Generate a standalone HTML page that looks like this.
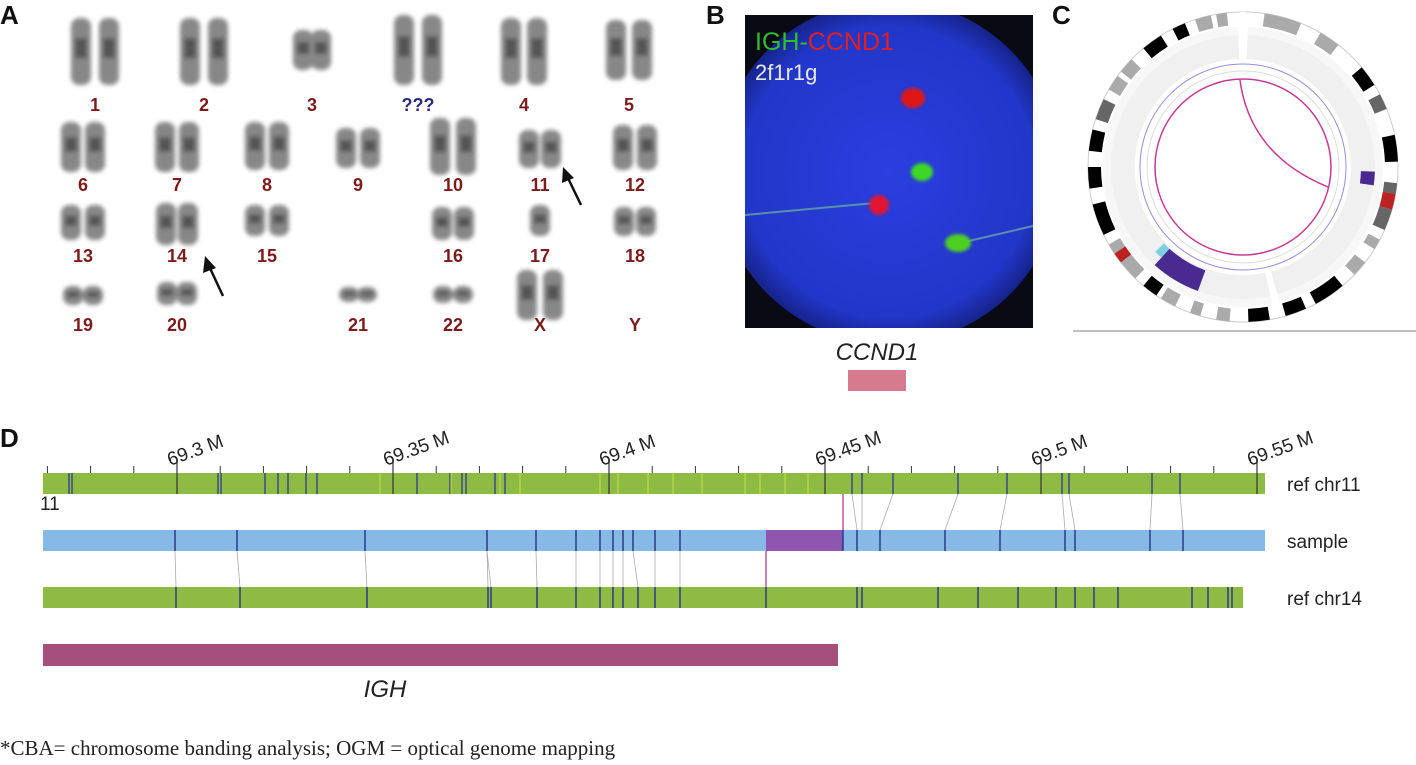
<!DOCTYPE html>
<html><head><meta charset="utf-8"><style>
html,body{margin:0;padding:0;background:#fff;width:1416px;height:765px;overflow:hidden}
svg{display:block}
.lbl{font-family:"Liberation Sans",Arial,sans-serif;font-weight:bold;font-size:18px;fill:#7b1c1c;text-anchor:middle}
.pl{font-family:"Liberation Sans",Arial,sans-serif;font-weight:bold;font-size:26px;fill:#111}
.tk{font-family:"Liberation Sans",Arial,sans-serif;font-size:19px;fill:#222}
</style></head><body>
<svg id="s" width="1416" height="765" viewBox="0 0 1416 765" xmlns="http://www.w3.org/2000/svg">
<defs>
<filter id="bl" x="-50%" y="-50%" width="200%" height="200%"><feGaussianBlur stdDeviation="2.2"/></filter>
<filter id="bl2" x="-50%" y="-50%" width="200%" height="200%"><feGaussianBlur stdDeviation="1.5"/></filter>
<radialGradient id="nuc" cx="50%" cy="50%" r="50%"><stop offset="0" stop-color="#2a3fe0"/><stop offset="0.85" stop-color="#2236c8"/><stop offset="1" stop-color="#16238a"/></radialGradient>
<clipPath id="bc"><rect x="745" y="15" width="288" height="313"/></clipPath>
</defs>
<text class="pl" x="0" y="24">A</text>
<text class="pl" x="706" y="24">B</text>
<text class="pl" x="1052" y="24">C</text>
<text class="pl" x="0" y="447">D</text>
<g id="chroms" filter="url(#bl)" opacity="0.8"></g>
<g>
<text class="lbl" x="95" y="111">1</text><text class="lbl" x="204" y="111">2</text><text class="lbl" x="312" y="111">3</text>
<text class="lbl" x="418" y="111" style="fill:#2a2a7a">???</text><text class="lbl" x="524" y="111">4</text><text class="lbl" x="629" y="111">5</text>
<text class="lbl" x="83" y="191">6</text><text class="lbl" x="177" y="191">7</text><text class="lbl" x="267" y="191">8</text><text class="lbl" x="358" y="191">9</text>
<text class="lbl" x="453" y="191">10</text><text class="lbl" x="540" y="191">11</text><text class="lbl" x="635" y="191">12</text>
<text class="lbl" x="83" y="262">13</text><text class="lbl" x="177" y="262">14</text><text class="lbl" x="267" y="262">15</text>
<text class="lbl" x="453" y="262">16</text><text class="lbl" x="540" y="262">17</text><text class="lbl" x="635" y="262">18</text>
<text class="lbl" x="83" y="331">19</text><text class="lbl" x="177" y="331">20</text><text class="lbl" x="358" y="331">21</text>
<text class="lbl" x="453" y="331">22</text><text class="lbl" x="540" y="331">X</text><text class="lbl" x="635" y="331">Y</text>
</g>
<g stroke="#111" stroke-width="2.5" fill="#111">
<line x1="581" y1="205" x2="567" y2="176"/><polygon points="563,167 574,178 562,183" stroke="none"/>
<line x1="223" y1="296" x2="209" y2="266"/><polygon points="205,256 216,268 203,273" stroke="none"/>
</g>
<!-- B -->
<rect x="745" y="15" width="288" height="313" fill="#0a0a14"/>
<g clip-path="url(#bc)">
<circle cx="889" cy="172" r="172" fill="url(#nuc)"/>
<line x1="745" y1="215" x2="875" y2="203" stroke="#5a8fb0" stroke-width="2"/>
<line x1="960" y1="243" x2="1033" y2="226" stroke="#5a8fb0" stroke-width="2"/>
<g filter="url(#bl2)">
<ellipse cx="913" cy="98" rx="12" ry="10" fill="#e01818"/>
<ellipse cx="922" cy="172" rx="11" ry="9" fill="#3cd828"/>
<ellipse cx="879" cy="205" rx="10" ry="10" fill="#e01830"/>
<ellipse cx="958" cy="243" rx="13" ry="9" fill="#4ed020"/>
</g>
</g>
<text x="755" y="50" font-family="Liberation Sans,Arial,sans-serif" font-size="25"><tspan fill="#2ec02e">IGH-</tspan><tspan fill="#e02020">CCND1</tspan></text>
<text x="755" y="80" font-family="Liberation Sans,Arial,sans-serif" font-size="22" fill="#e8e8e8">2f1r1g</text>
<text x="877" y="360" font-family="Liberation Sans,Arial,sans-serif" font-size="24" font-style="italic" fill="#222" text-anchor="middle">CCND1</text>
<rect x="848" y="370" width="58" height="21" fill="#d67a8e"/>
<!-- C -->
<g id="circ"></g>
<line x1="1073" y1="331" x2="1416" y2="331" stroke="#aaa" stroke-width="1.5"/>
<!-- D -->
<g id="dd"></g>
<text class="tk" x="1287" y="491">ref chr11</text>
<text class="tk" x="1287" y="548">sample</text>
<text class="tk" x="1287" y="605">ref chr14</text>
<text class="tk" x="40" y="510" font-size="16">11</text>
<text x="385" y="697" font-family="Liberation Sans,Arial,sans-serif" font-size="24" font-style="italic" fill="#222" text-anchor="middle">IGH</text>
<text x="0" y="755" font-family="Liberation Serif,serif" font-size="21" fill="#222">*CBA= chromosome banding analysis; OGM = optical genome mapping</text>
<g class="tk">
<text transform="translate(170,466) rotate(-20)">69.3 M</text>
<text transform="translate(386,466) rotate(-20)">69.35 M</text>
<text transform="translate(602,466) rotate(-20)">69.4 M</text>
<text transform="translate(818,466) rotate(-20)">69.45 M</text>
<text transform="translate(1034,466) rotate(-20)">69.5 M</text>
<text transform="translate(1250,466) rotate(-20)">69.55 M</text>
</g>
</svg>
<script>
var NS="http://www.w3.org/2000/svg";
function el(p,t,a){var e=document.createElementNS(NS,t);for(var k in a)e.setAttribute(k,a[k]);p.appendChild(e);return e;}
var ch=document.getElementById('chroms');
var C=[[95,18,85,24],[204,18,85,24],[312,30,70,14],[418,15,85,24],[524,18,85,22],[629,20,80,22],
[83,122,172,20],[177,122,172,20],[267,122,170,20],[358,128,168,20],[453,118,175,22],[540,130,168,18],[635,125,170,20],
[83,205,240,20],[177,203,245,18],[267,205,236,20],[453,207,240,18],[540,205,236,8],[635,207,236,18],
[83,286,305,16],[177,282,305,16],[358,287,302,14],[453,286,303,16],[540,270,320,22]];
C.forEach(function(c){var cx=c[0],y1=c[1],y2=c[2],g=c[3];var h=y2-y1;
 var xs=g>10?[cx-g/2-2,cx+g/2+2]:[cx];
 xs.forEach(function(x){el(ch,'rect',{x:x-10,y:y1,width:20,height:h,rx:8,fill:'#6a6a6a'});
  el(ch,'rect',{x:x-6,y:y1+h*0.3,width:12,height:h*0.3,fill:'#2a2a2a'});});});
var cg=document.getElementById('circ');var cx=1243,cy=167;
function arc(r1,r2,a1,a2,f){var p=Math.PI/180;function pt(r,a){return (cx+r*Math.sin(a*p)).toFixed(1)+','+(cy-r*Math.cos(a*p)).toFixed(1);}
 var lg=(a2-a1)>180?1:0;el(cg,'path',{d:'M'+pt(r2,a1)+'A'+r2+','+r2+' 0 '+lg+' 1 '+pt(r2,a2)+'L'+pt(r1,a2)+'A'+r1+','+r1+' 0 '+lg+' 0 '+pt(r1,a1)+'Z',fill:f});}
el(cg,'circle',{cx:cx,cy:cy,r:155,fill:'#fff',stroke:'#ccc','stroke-width':1});
arc(108,132,2,165,'#f0f0f0');arc(108,132,168,358,'#f0f0f0');
arc(132,140,2,165,'#f7f7f7');arc(132,140,168,358,'#f7f7f7');
el(cg,'circle',{cx:cx,cy:cy,r:103,fill:'none',stroke:'#9a8ae0','stroke-width':1});
el(cg,'circle',{cx:cx,cy:cy,r:96,fill:'none',stroke:'#ddd','stroke-width':1});
el(cg,'circle',{cx:cx,cy:cy,r:88,fill:'none',stroke:'#c63a92','stroke-width':1.5});
el(cg,'path',{d:'M1240,80 Q1250,155 1328,187',fill:'none',stroke:'#c63a92','stroke-width':1.5});
var bands=[[8,22,'#aaa'],[30,38,'#aaa'],[50,58,'#000'],[62,68,'#666'],[78,88,'#000'],[96,100,'#666'],[100,106,'#b22'],[106,114,'#666'],[118,122,'#aaa'],[128,134,'#aaa'],[140,152,'#000'],[156,164,'#000'],
[170,178,'#000'],[185,190,'#aaa'],[196,200,'#aaa'],[206,212,'#aaa'],[214,220,'#000'],[224,240,'#aaa'],[232,236,'#b22'],[244,256,'#000'],[262,270,'#000'],[276,284,'#000'],[288,296,'#666'],[300,306,'#aaa'],[308,314,'#aaa'],[320,328,'#000'],[333,338,'#000'],[342,348,'#aaa'],[350,354,'#aaa']];
bands.forEach(function(b){arc(142,155,b[0],b[1],b[2]);});
arc(142,155,-1,1,'#fff');
arc(110,132,200,222,'#4a2a90');arc(118,132,92,98,'#4a2a90');arc(110,122,222,226,'#7cd0e0');
var dd=document.getElementById('dd');
el(dd,'rect',{x:43,y:473,width:1222,height:21,fill:'#8dbb43'});
el(dd,'rect',{x:43,y:530,width:1222,height:21,fill:'#86b9e5'});
el(dd,'rect',{x:766,y:530,width:77,height:21,fill:'#8e56ae'});
el(dd,'rect',{x:43,y:587,width:1200,height:21,fill:'#8dbb43'});
el(dd,'rect',{x:43,y:644,width:795,height:22,fill:'#a5507b'});
for(var x=177-216;x<=1265;x+=43.2){if(x<43)continue;el(dd,'line',{x1:x,y1:466,x2:x,y2:473,stroke:'#333','stroke-width':1});}
for(var i=0;i<6;i++){var x=177+216*i;el(dd,'line',{x1:x,y1:460,x2:x,y2:494,stroke:'#334','stroke-width':1.2});}
var r1=[69,72,218,221,265,278,288,306,317,417,450,462,466,495,505,852,862,893,958,1007,1062,1069,1152,1180];
r1.forEach(function(x){el(dd,'line',{x1:x,y1:473,x2:x,y2:494,stroke:'#3a4a8a','stroke-width':1.5});});
[380,451,500,520,600,618,648,673,702,745,760,785,808].forEach(function(x){el(dd,'line',{x1:x,y1:473,x2:x,y2:494,stroke:'#c8e040','stroke-width':1});});
var sm=[175,237,365,487,536,576,600,613,623,633,655,680,843,857,880,945,1000,1065,1075,1150,1183];
sm.forEach(function(x){el(dd,'line',{x1:x,y1:530,x2:x,y2:551,stroke:'#2a3a8a','stroke-width':1.5});});
var r14=[[175,176],[237,240],[365,367],[487,488],[487,491],[536,537],[576,576],[600,600],[613,613],[623,623],[633,638],[655,655],[680,680]];
r14.forEach(function(p){el(dd,'line',{x1:p[0],y1:551,x2:p[1],y2:587,stroke:'#aaa','stroke-width':0.8});el(dd,'line',{x1:p[1],y1:587,x2:p[1],y2:608,stroke:'#2a3a8a','stroke-width':1.5});});
[766,857,862,938,978,1018,1056,1075,1094,1118,1192,1208,1228,1232].forEach(function(x){el(dd,'line',{x1:x,y1:587,x2:x,y2:608,stroke:'#2a3a8a','stroke-width':1.5});});
[[852,857],[862,862],[893,880],[958,945],[1007,1000],[1062,1065],[1069,1075],[1152,1150],[1180,1183]].forEach(function(p){el(dd,'line',{x1:p[0],y1:494,x2:p[1],y2:530,stroke:'#aaa','stroke-width':0.8});});
el(dd,'line',{x1:843,y1:494,x2:843,y2:530,stroke:'#b03080','stroke-width':1.2});
el(dd,'line',{x1:766,y1:551,x2:766,y2:587,stroke:'#b03080','stroke-width':1.2});
</script>
</body></html>
